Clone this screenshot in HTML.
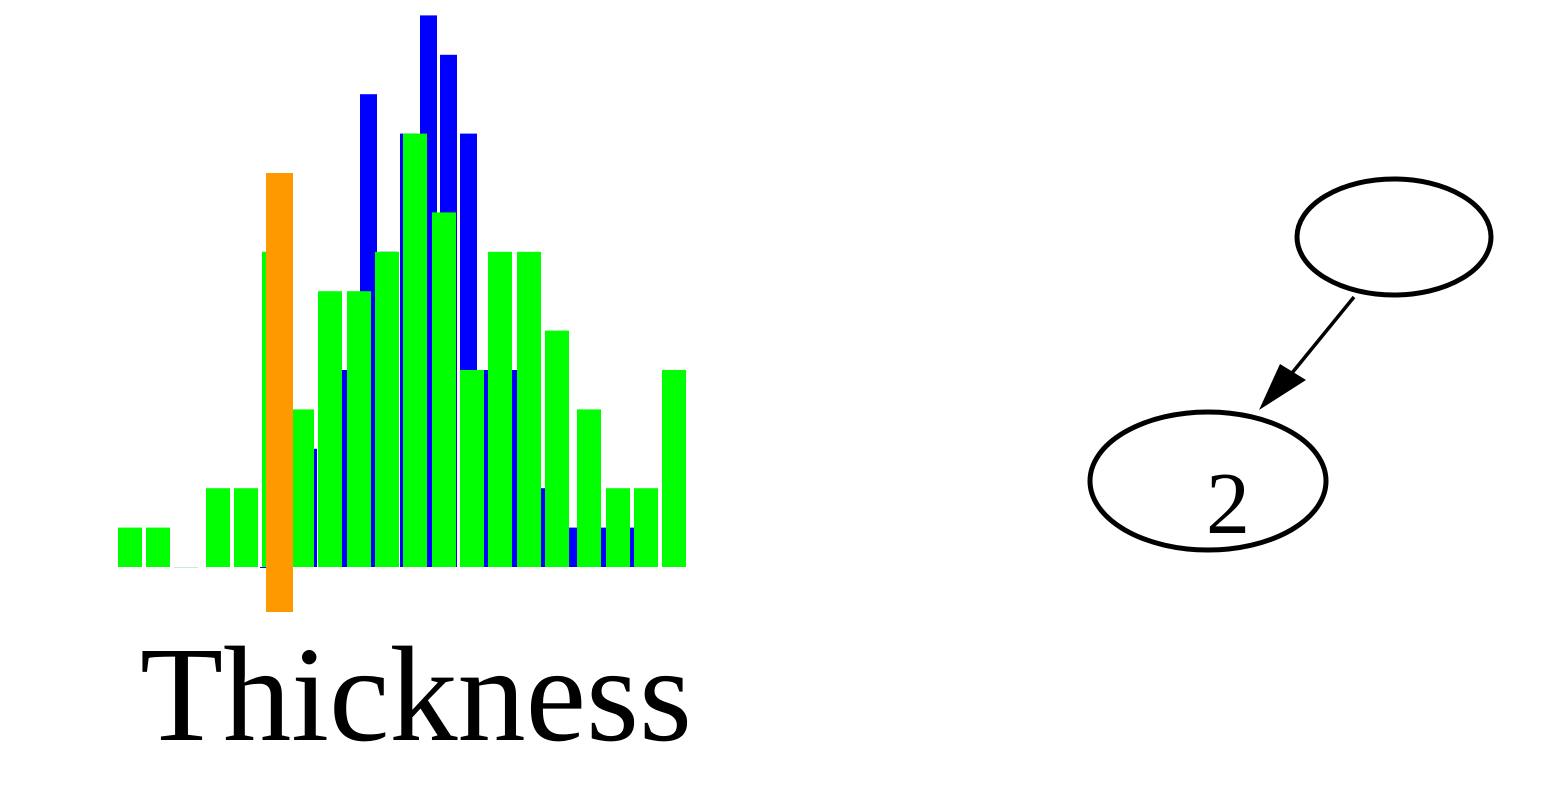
<!DOCTYPE html>
<html><head><meta charset="utf-8"><style>
html,body{margin:0;padding:0;background:#fff;}
svg{display:block;}
</style></head><body>
<svg width="1541" height="796" viewBox="0 0 1541 796">
<g id="chart"></g>
<text x="140" y="740" textLength="552" lengthAdjust="spacingAndGlyphs" font-family="Liberation Serif, serif" font-size="136" fill="#000">Thickness</text>
<g>
<ellipse cx="1394" cy="237" rx="97" ry="58" fill="none" stroke="#000" stroke-width="5"/>
<ellipse cx="1208" cy="481" rx="118" ry="69" fill="none" stroke="#000" stroke-width="5"/>
<text x="1228" y="533" text-anchor="middle" font-family="Liberation Serif, serif" font-size="88" fill="#000">2</text>
<line x1="1354" y1="297" x2="1292" y2="373" stroke="#000" stroke-width="3.5"/>
<polygon points="1259,410 1280,364 1306,380" fill="#000"/>
</g>
</svg>
<script>
const greenValues = [1,1,0,2,2,8,4,7,7,8,11,9,5,8,8,6,4,2,2,5];
const blueValues = [0,3,3,5,5,12,8,11,14,13,11,5,5,2,2,1,1,1,1];
const orangeValue = [10];
const greenLefts = [118,146,174,206,234,262,290,318,347,375,403,432,460,488,517,545,577,606,634,662];
const baseY = 567, unit = 39.4;
function yScale(v){ return baseY - v*unit; }
const NS = 'http://www.w3.org/2000/svg';
const g = document.getElementById('chart');
function rect(x,y,w,h,fill){
  const r = document.createElementNS(NS,'rect');
  r.setAttribute('x',x); r.setAttribute('y',y);
  r.setAttribute('width',w); r.setAttribute('height',Math.max(h,1));
  r.setAttribute('fill',fill);
  g.appendChild(r); return r;
}
blueValues.forEach((v,i)=>{
  const x = 260 + i*20;
  const r = rect(x, yScale(v), 17, baseY - yScale(v), '#0000ff');
  
  
});
greenValues.forEach((v,i)=>{
  const x = greenLefts[i];
  const r = rect(x, yScale(v), 24, baseY - yScale(v), v===0 ? '#cfe8cf' : '#00ff00');
  
  
});
const o = rect(266, yScale(orangeValue[0]), 27, 612 - yScale(orangeValue[0]), '#ff9900');


</script>
</body></html>
